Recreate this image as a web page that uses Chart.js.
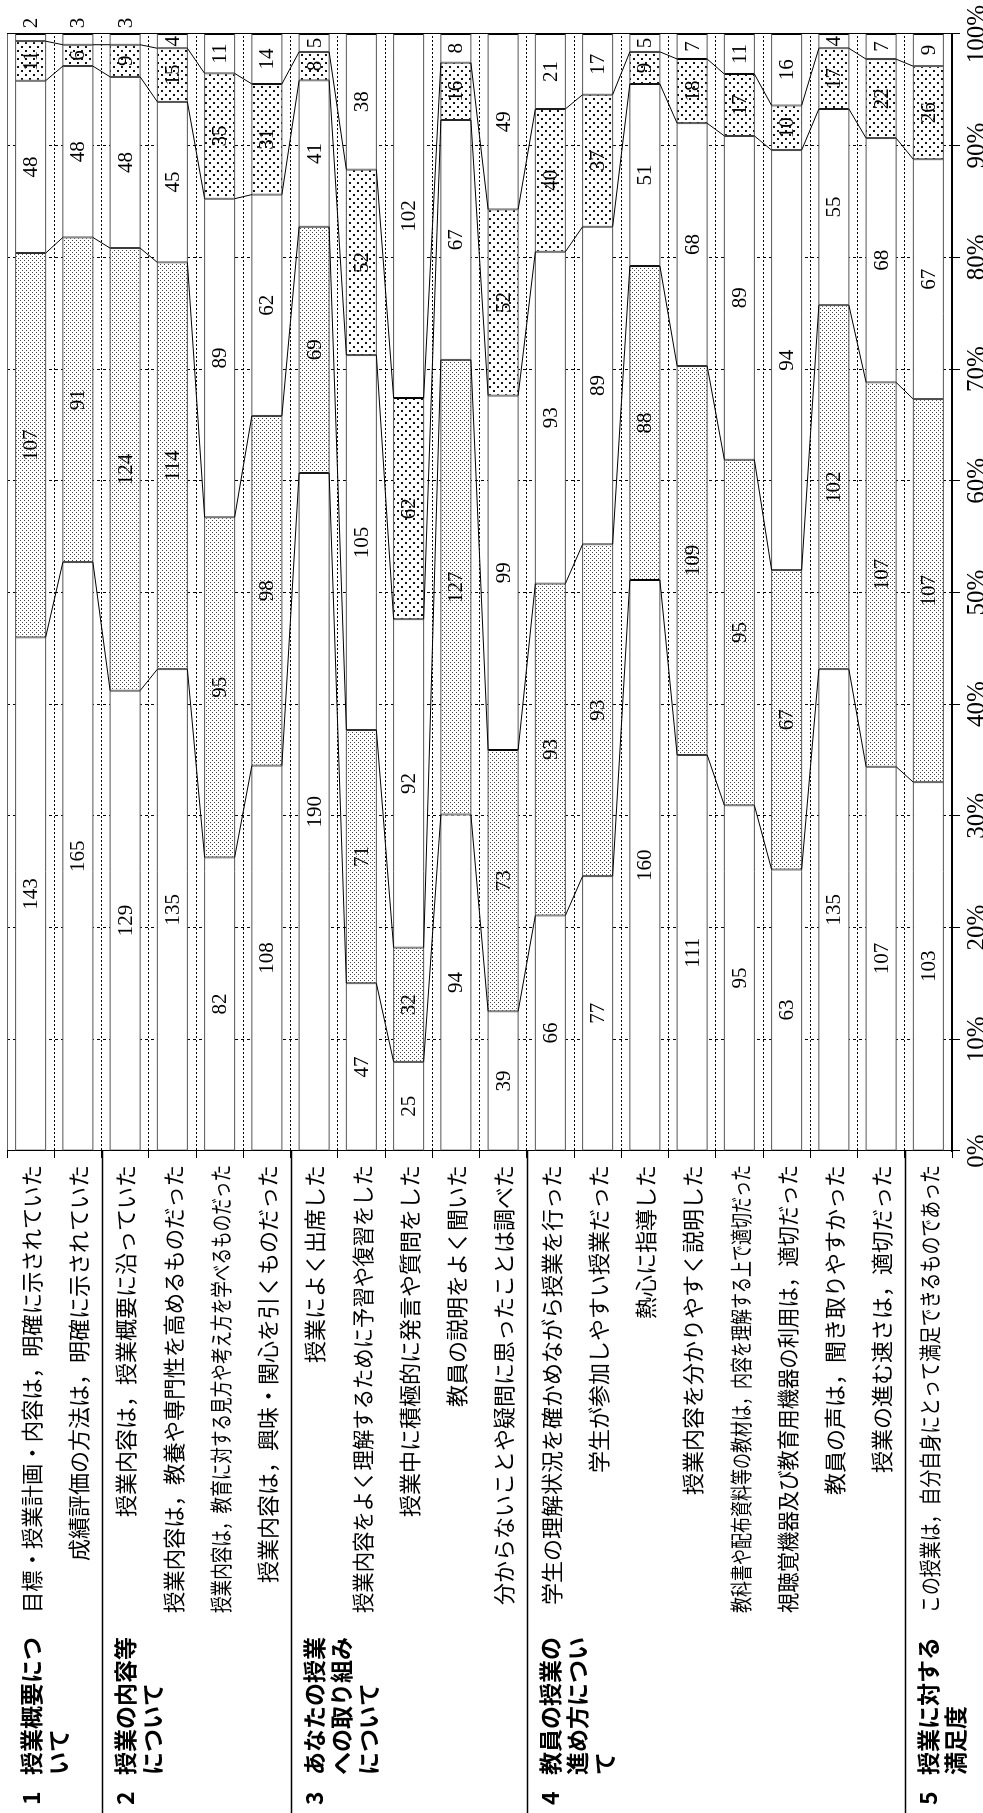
<!DOCTYPE html>
<html lang="ja">
<head>
<meta charset="utf-8">
<title>授業評価アンケート集計</title>
<script src="https://cdn.jsdelivr.net/npm/chart.js@4.4.1/dist/chart.umd.min.js"></script>
<style>
  html, body { margin: 0; padding: 0; background: #fff; overflow: hidden; }
  /* the sheet is laid out landscape and turned a quarter turn to the left */
  #sheet {
    position: absolute; left: 0; top: 0;
    width: 1813px; height: 983px;
    transform-origin: 0 0;
    transform: translate(0, 1813px) rotate(-90deg);
  }
  canvas { display: block; }
</style>
</head>
<body>
<div id="sheet"><canvas id="survey" width="1813" height="983"></canvas></div>
<script>
// ---- question items ----
const questions = [
  '目標・授業計画・内容は，明確に示されていた',
  '成績評価の方法は，明確に示されていた',
  '授業内容は，授業概要に沿っていた',
  '授業内容は，教養や専門性を高めるものだった',
  '授業内容は，教育に対する見方や考え方を学べるものだった',
  '授業内容は，興味・関心を引くものだった',
  '授業によく出席した',
  '授業内容をよく理解するために予習や復習をした',
  '授業中に積極的に発言や質問をした',
  '教員の説明をよく聞いた',
  '分からないことや疑問に思ったことは調べた',
  '学生の理解状況を確かめながら授業を行った',
  '学生が参加しやすい授業だった',
  '熱心に指導した',
  '授業内容を分かりやすく説明した',
  '教科書や配布資料等の教材は，内容を理解する上で適切だった',
  '視聴覚機器及び教育用機器の利用は，適切だった',
  '教員の声は，聞き取りやすかった',
  '授業の進む速さは，適切だった',
  'この授業は，自分自身にとって満足できるものであった'
];

// ---- question groups ----
const groupNumbers = ['1', '2', '3', '4', '5'];
const groupTitles = [
  ['授業概要につ', 'いて'],
  ['授業の内容等', 'について'],
  ['あなたの授業', 'への取り組み', 'について'],
  ['教員の授業の', '進め方につい', 'て'],
  ['授業に対する', '満足度']
];
const groupFirstItem = [0, 2, 6, 11, 19];

// ---- answer counts, five response levels per item ----
const level1 = [143, 165, 129, 135, 82, 108, 190, 47, 25, 94, 39, 66, 77, 160, 111, 95, 63, 135, 107, 103];
const level2 = [107, 91, 124, 114, 95, 98, 69, 71, 32, 127, 73, 93, 93, 88, 109, 95, 67, 102, 107, 107];
const level3 = [48, 48, 48, 45, 89, 62, 41, 105, 92, 67, 99, 93, 89, 51, 68, 89, 94, 55, 68, 67];
const level4 = [11, 6, 9, 15, 35, 31, 8, 52, 62, 16, 52, 40, 37, 9, 18, 17, 10, 17, 22, 26];
const level5 = [2, 3, 3, 4, 11, 14, 5, 38, 102, 8, 49, 21, 17, 5, 7, 11, 16, 4, 7, 9];

// ---- percent axis ----
const percentTicks = [0, 10, 20, 30, 40, 50, 60, 70, 80, 90, 100];

const levels = [level1, level2, level3, level4, level5];
const totals = questions.map((_, i) => levels.reduce((s, l) => s + l[i], 0));

const canvas = document.getElementById('survey');
const ctx2d = canvas.getContext('2d');

// dotted screen tones
function dotTone(tile, size, points, color) {
  const t = document.createElement('canvas');
  t.width = tile; t.height = tile;
  const g = t.getContext('2d');
  g.fillStyle = '#fff';
  g.fillRect(0, 0, tile, tile);
  g.fillStyle = color;
  points.forEach(p => g.fillRect(p[0], p[1], size, size));
  return ctx2d.createPattern(t, 'repeat');
}
const fineDots = dotTone(4, 1, [[0, 0], [2, 2]], '#444');
const coarseDots = dotTone(8, 2, [[1, 1], [5, 5]], '#111');
const fills = ['#fff', fineDots, '#fff', coarseDots, '#fff'];

const JP = '"Noto Sans CJK JP", "Noto Sans", sans-serif';
const SERIF = '"Liberation Serif", "DejaVu Serif", serif';

// outlines, series lines between neighbouring bars, and counts
const barDecor = {
  id: 'barDecor',
  afterDatasetsDraw(chart) {
    const ctx = chart.ctx;
    const metas = levels.map((_, k) => chart.getDatasetMeta(k));
    const n = questions.length;
    ctx.save();

    // thin outline along the long sides of each bar
    ctx.strokeStyle = '#555';
    ctx.lineWidth = 1;
    for (let i = 0; i < n; i++) {
      const first = metas[0].data[i].getProps(['x', 'y', 'base', 'height'], true);
      const last = metas[levels.length - 1].data[i].getProps(['x'], true);
      const top = first.y - first.height / 2;
      const bot = first.y + first.height / 2;
      ctx.beginPath();
      ctx.moveTo(first.base, top); ctx.lineTo(last.x, top);
      ctx.moveTo(first.base, bot); ctx.lineTo(last.x, bot);
      ctx.stroke();
    }

    // series lines joining the same boundary of consecutive bars
    ctx.strokeStyle = '#000';
    ctx.lineWidth = 1;
    for (let k = 0; k < levels.length - 1; k++) {
      for (let i = 0; i < n - 1; i++) {
        const a = metas[k].data[i].getProps(['x', 'y', 'height'], true);
        const b = metas[k].data[i + 1].getProps(['x', 'y', 'height'], true);
        ctx.beginPath();
        ctx.moveTo(a.x, a.y + a.height / 2);
        ctx.lineTo(b.x, b.y - b.height / 2);
        ctx.stroke();
      }
    }

    // counts written on each segment
    ctx.fillStyle = '#000';
    ctx.font = '21px ' + SERIF;
    ctx.textAlign = 'center';
    ctx.textBaseline = 'middle';
    levels.forEach((vals, k) => {
      metas[k].data.forEach((el, i) => {
        const p = el.getProps(['x', 'y', 'base'], true);
        const txt = String(vals[i]);
        const w = Math.abs(p.x - p.base);
        const tw = ctx.measureText(txt).width;
        if (w < tw + 3 && k === levels.length - 1) {
          ctx.fillText(txt, p.x + 11, p.y + 1);
        } else {
          ctx.fillText(txt, (p.x + p.base) / 2, p.y + 1);
        }
      });
    });
    ctx.restore();
  }
};

// item captions, group headings and group rules
const itemTable = {
  id: 'itemTable',
  afterDraw(chart) {
    const ctx = chart.ctx;
    const ys = chart.scales.y;
    const area = chart.chartArea;
    const slot = ys.getPixelForValue(1) - ys.getPixelForValue(0);
    ctx.save();
    ctx.fillStyle = '#000';
    ctx.textBaseline = 'middle';

    // item captions, right aligned against the axis
    ctx.font = '22px ' + JP;
    ctx.textAlign = 'right';
    const captionRight = area.left - 14;
    const captionWidth = 448;
    questions.forEach((q, i) => {
      ctx.fillText(q, captionRight, ys.getPixelForValue(i) + 1, captionWidth);
    });

    // group headings
    groupTitles.forEach((lines, g) => {
      const top = ys.getPixelForValue(groupFirstItem[g]) - slot / 2;
      ctx.font = 'bold 23px ' + JP;
      ctx.textAlign = 'left';
      ctx.fillText(groupNumbers[g], 8, top + 24);
      lines.forEach((line, j) => {
        ctx.fillText(line, 38, top + 24 + j * 27);
      });
    });

    // rules between groups
    ctx.strokeStyle = '#000';
    ctx.lineWidth = 1.5;
    groupFirstItem.slice(1).forEach(idx => {
      const y = Math.round(ys.getPixelForValue(idx) - slot / 2) + 0.5;
      ctx.beginPath();
      ctx.moveTo(0, y);
      ctx.lineTo(area.left, y);
      ctx.stroke();
    });
    ctx.restore();
  }
};

new Chart(ctx2d, {
  type: 'bar',
  data: {
    labels: questions,
    datasets: levels.map((vals, k) => ({
      label: 'level' + (k + 1),
      data: vals.map((v, i) => v / totals[i] * 100),
      backgroundColor: fills[k],
      borderColor: '#000',
      borderWidth: { left: 1, right: 1, top: 0, bottom: 0 },
      borderSkipped: false,
      barPercentage: 0.635,
      categoryPercentage: 1
    }))
  },
  options: {
    indexAxis: 'y',
    responsive: false,
    devicePixelRatio: 1,
    animation: false,
    layout: { padding: { top: 7, right: 34, left: 0, bottom: 0 } },
    plugins: { legend: { display: false }, tooltip: { enabled: false } },
    scales: {
      x: {
        stacked: true,
        min: 0,
        max: 100,
        afterFit(s) { s.height = 31; },
        afterBuildTicks(s) { s.ticks = percentTicks.map(v => ({ value: v })); },
        ticks: {
          color: '#000',
          font: { family: SERIF, size: 25 },
          padding: 2,
          maxRotation: 0,
          autoSkip: false,
          callback: v => v + '%'
        },
        grid: {
          color: '#000',
          lineWidth: 1,
          tickLength: 8,
          tickColor: '#000',
          tickBorderDash: []
        },
        border: {
          display: true,
          color: '#000',
          width: 2,
          dash: c => (c.tick && c.tick.value === 100) ? [] : [3, 3]
        }
      },
      y: {
        stacked: true,
        afterFit(s) { s.width = 662; },
        ticks: { display: false },
        grid: {
          offset: true,
          color: c => c.index === 0 ? '#666' : '#000',
          lineWidth: 1,
          tickLength: 7,
          tickColor: '#000',
          tickBorderDash: []
        },
        border: {
          display: true,
          color: '#000',
          width: 1,
          dash: c => c.index === 0 ? [] : [2, 2]
        }
      }
    }
  },
  plugins: [barDecor, itemTable]
});
</script>
</body>
</html>
